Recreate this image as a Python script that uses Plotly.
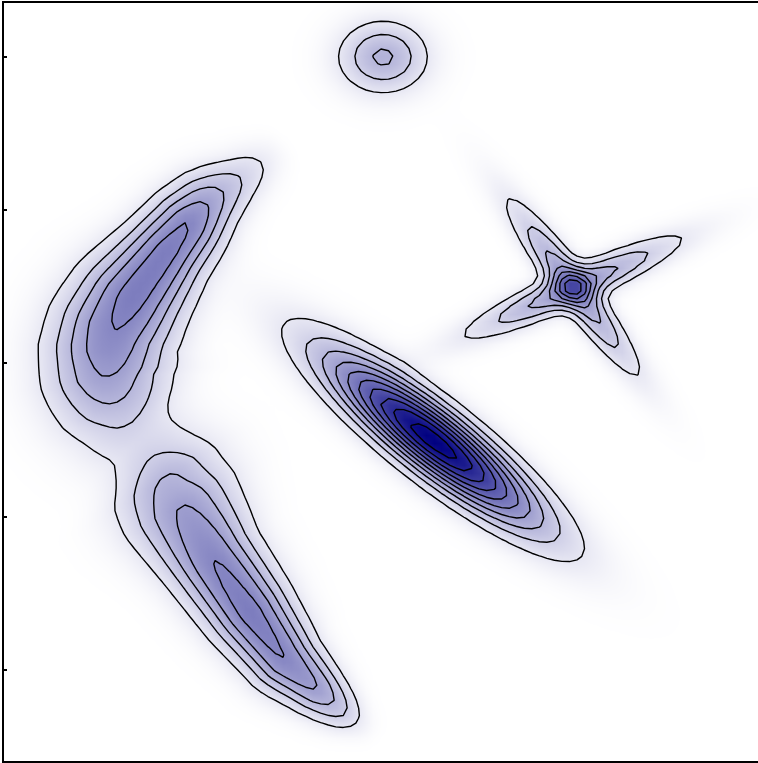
import numpy as np
import plotly.graph_objects as go

# ---- field components (plot coordinates: x right, y down) ----
# tilted elliptical peak
ell_center = (433, 440)
ell_sigma = (87.0, 20.7)      # along / across the long axis
ell_angle = 38.0
ell_amp = 1.06

# small round peak near the top
blob_center = (383, 57)
blob_sigma = (29.0, 23.3)
blob_amp = 0.32

# four-armed star: two crossing thin ridges plus a small core
star_center = (573, 287)
star_arm_angle = [-24.0, 53.4]
star_arm_len = [73.0, 67.0]
star_arm_width = [11.5, 11.5]
star_arm_amp = [0.38, 0.38]
star_core = (14.0, 0.05)

# upper lobe of the curved ridge: spine knots, crest height, half-spread
upper_x = [272, 260, 240, 222, 207, 190, 167, 130, 113, 108, 108, 117, 128, 142, 158, 172]
upper_y = [152, 163, 178, 191, 203, 222, 250, 300, 330, 352, 377, 402, 423, 442, 460, 476]
upper_h = [0.04, 0.10, 0.20, 0.30, 0.40, 0.50, 0.54, 0.54, 0.50, 0.465, 0.40, 0.30, 0.18, 0.10, 0.05, 0.02]
upper_w = [14, 16, 18, 21, 23, 25, 27, 35, 38, 40, 41, 41, 40, 38, 35, 32]

# lower lobe of the curved ridge
lower_x = [122, 138, 152, 165, 180, 212, 250, 285, 318, 333, 345, 355, 364]
lower_y = [428, 444, 460, 478, 505, 558, 612, 660, 690, 703, 713, 721, 729]
lower_h = [0.02, 0.04, 0.14, 0.28, 0.40, 0.50, 0.545, 0.50, 0.40, 0.30, 0.20, 0.10, 0.03]
lower_w = [32, 36, 38, 40, 38, 30, 27, 23, 18, 16, 14, 12, 10]

# contour levels and axis ticks
levels = dict(start=0.1, end=1.0, size=0.1)
ytick_pos = [57, 210, 363, 517, 670]

# ---- sampling grid ----
xs = np.linspace(4, 758, 101)
ys = np.linspace(3, 761, 101)
X, Y = np.meshgrid(xs, ys)


def gauss(cx, cy, s_long, s_short, angle, amp):
    t = np.deg2rad(angle)
    dx, dy = X - cx, Y - cy
    u = dx * np.cos(t) + dy * np.sin(t)
    v = -dx * np.sin(t) + dy * np.cos(t)
    return amp * np.exp(-0.5 * ((u / s_long) ** 2 + (v / s_short) ** 2))


def ridge(kx, ky, kh, kw, along=8.0, step=1.5):
    """Envelope of elongated gaussians laid along a spine."""
    kx, ky = np.asarray(kx, float), np.asarray(ky, float)
    arc = np.concatenate([[0], np.cumsum(np.hypot(np.diff(kx), np.diff(ky)))])
    s = np.arange(0, arc[-1] + 0.1, step)
    px, py = np.interp(s, arc, kx), np.interp(s, arc, ky)
    ph, pw = np.interp(s, arc, kh), np.interp(s, arc, kw)
    tx, ty = np.gradient(px), np.gradient(py)
    k = np.ones(15) / 15
    tx = np.convolve(np.pad(tx, 7, mode="edge"), k, mode="valid")
    ty = np.convolve(np.pad(ty, 7, mode="edge"), k, mode="valid")
    n = np.hypot(tx, ty)
    tx, ty = tx / n, ty / n
    dx, dy = X[..., None] - px, Y[..., None] - py
    u = dx * tx + dy * ty
    v = -dx * ty + dy * tx
    return (ph * np.exp(-0.5 * ((u / along) ** 2 + (v / pw) ** 2))).max(axis=-1)


Z = gauss(*ell_center, *ell_sigma, ell_angle, ell_amp)
Z += gauss(*blob_center, *blob_sigma, 0.0, blob_amp)
for ang, L, w, a in zip(star_arm_angle, star_arm_len, star_arm_width, star_arm_amp):
    Z += gauss(*star_center, L, w, ang, a)
Z += gauss(*star_center, star_core[0], star_core[0], 0.0, star_core[1])
Z += ridge(upper_x, upper_y, upper_h, upper_w)
Z += ridge(lower_x, lower_y, lower_h, lower_w)

zmax = float(Z.max())

fig = go.Figure()
fig.add_trace(go.Heatmap(
    x=xs, y=ys, z=Z, zmin=0, zmax=zmax, zsmooth="best",
    colorscale=[[0, "rgb(255,255,255)"], [1, "rgb(0,0,128)"]],
    showscale=False, hoverinfo="skip",
))
fig.add_trace(go.Contour(
    x=xs, y=ys, z=Z,
    contours=dict(coloring="none", **levels),
    line=dict(color="black", width=1.4, smoothing=0),
    showscale=False, hoverinfo="skip",
))

fig.update_layout(
    width=758, height=763,
    margin=dict(l=4, r=0, t=3, b=2),
    paper_bgcolor="white", plot_bgcolor="white",
    showlegend=False,
)
fig.update_xaxes(
    range=[4, 758], showgrid=False, zeroline=False,
    showline=True, mirror=True, linecolor="black", linewidth=2,
    ticks="", showticklabels=False,
)
fig.update_yaxes(
    range=[761, 3], showgrid=False, zeroline=False,
    showline=True, mirror=False, linecolor="black", linewidth=2,
    tickmode="array", tickvals=ytick_pos, ticks="inside",
    ticklen=3, tickwidth=2, tickcolor="black", showticklabels=False,
)

fig.write_html("out.html")
